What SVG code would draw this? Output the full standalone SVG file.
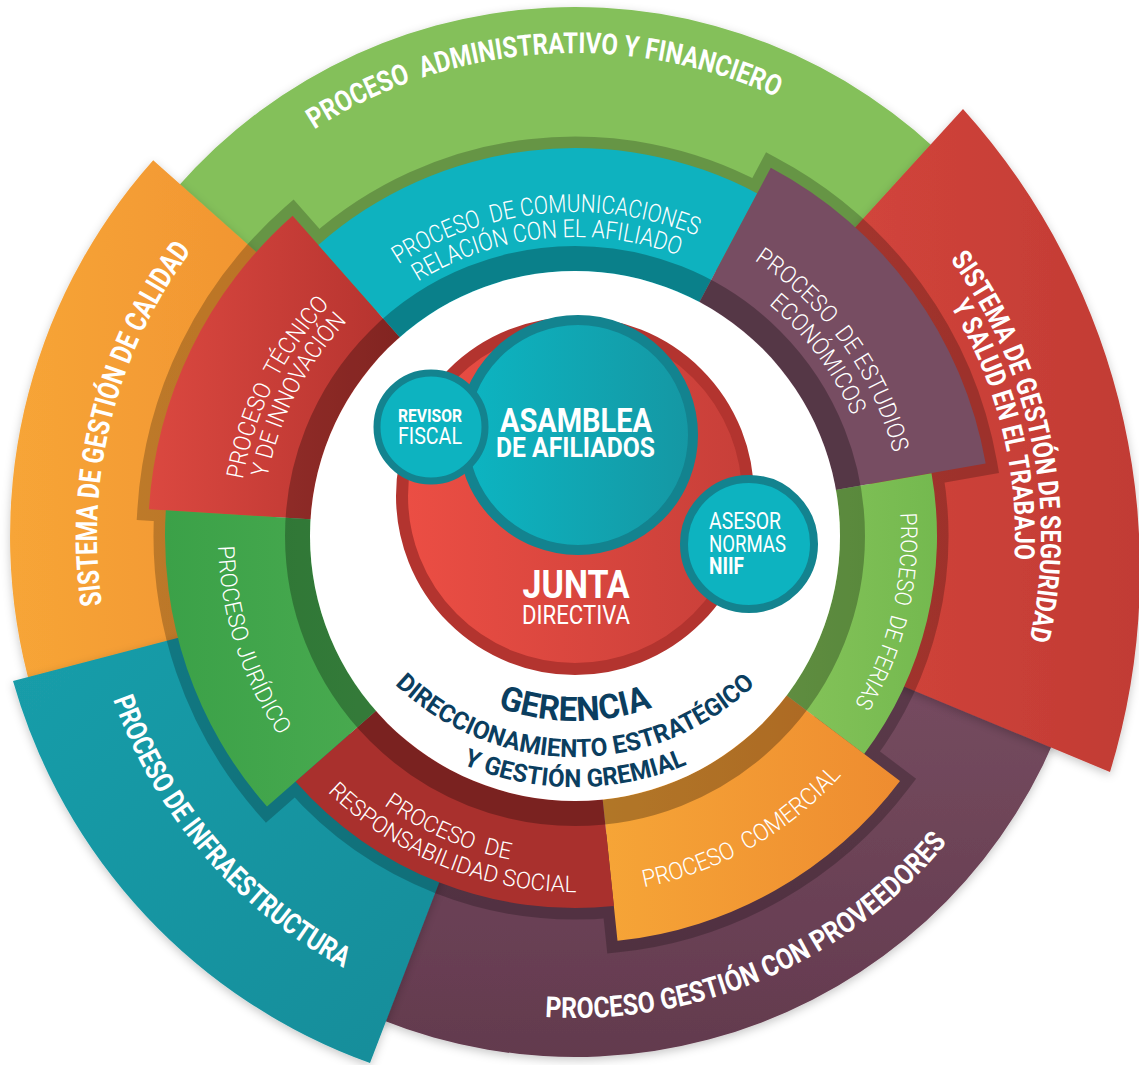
<svg xmlns="http://www.w3.org/2000/svg" width="1139" height="1065" viewBox="0 0 1139 1065">
<defs>
<style>
.ob{font-family:Roboto,"Liberation Sans",sans-serif;font-weight:700;fill:#fff}
.il{font-family:Roboto,"Liberation Sans",sans-serif;font-weight:300;fill:#fff}
.cb{font-family:Roboto,"Liberation Sans",sans-serif;font-weight:700;fill:#fff;text-anchor:middle}
.cl{font-family:Roboto,"Liberation Sans",sans-serif;font-weight:400;fill:#fff;text-anchor:middle}
.gb{font-family:Roboto,"Liberation Sans",sans-serif;font-weight:700;fill:#0b3e5f}
</style>
<filter id="ds" x="-15%" y="-15%" width="130%" height="130%"><feDropShadow dx="0" dy="3" stdDeviation="5" flood-color="#000" flood-opacity="0.22"/></filter>
<linearGradient id="gOr" x1="0" y1="0" x2="1" y2="0"><stop offset="0" stop-color="#f7a537"/><stop offset="1" stop-color="#ef8f30"/></linearGradient>
<linearGradient id="gRd" x1="0" y1="0" x2="1" y2="0"><stop offset="0" stop-color="#d6473d"/><stop offset="1" stop-color="#c13b34"/></linearGradient>
<linearGradient id="gTl" x1="0" y1="0" x2="1" y2="1"><stop offset="0" stop-color="#1a9eaa"/><stop offset="1" stop-color="#138c99"/></linearGradient>
<linearGradient id="gPl" x1="0" y1="0" x2="0" y2="1"><stop offset="0" stop-color="#774d61"/><stop offset="1" stop-color="#633a4e"/></linearGradient>
<linearGradient id="gTec" x1="0" y1="0" x2="1" y2="0"><stop offset="0" stop-color="#db4840"/><stop offset="1" stop-color="#b3322e"/></linearGradient>
<linearGradient id="gCom" x1="0" y1="0" x2="1" y2="0"><stop offset="0" stop-color="#f6a537"/><stop offset="1" stop-color="#ee8c30"/></linearGradient>
<linearGradient id="gJur" x1="0" y1="0" x2="1" y2="0"><stop offset="0" stop-color="#3ba148"/><stop offset="1" stop-color="#4aab50"/></linearGradient>
<linearGradient id="gFer" x1="0" y1="0" x2="1" y2="0"><stop offset="0" stop-color="#86c45a"/><stop offset="1" stop-color="#74b94f"/></linearGradient>
<linearGradient id="gJun" x1="0" y1="0" x2="1" y2="0"><stop offset="0" stop-color="#ec4e44"/><stop offset="1" stop-color="#c73f39"/></linearGradient>
<linearGradient id="gAsa" x1="0" y1="0" x2="1" y2="0"><stop offset="0" stop-color="#0cb5c2"/><stop offset="1" stop-color="#1597a3"/></linearGradient>
<!-- outer text paths -->
<path id="p-admin" d="M 239.5 188.6 A 483 483 0 0 1 858.9 145.3"/>
<path id="p-calidad" d="M 144.7 744 A 478 478 0 0 1 295.4 148.3"/>
<path id="p-seg1" d="M 863.6 170.1 A 466 466 0 0 1 985.5 756.6"/>
<path id="p-seg2" d="M 832.4 179.1 A 440 440 0 0 1 971.1 727.5"/>
<path id="p-prov" d="M 438.1 998.1 A 482 482 0 0 0 1006.3 751.1"/>
<path id="p-infra" d="M 85 541.6 A 490 490 0 0 0 495.4 1019.5"/>
<!-- inner text paths -->
<path id="p-tec1" d="M 247.3 614.7 A 337 337 0 0 1 440.6 226.9"/>
<path id="p-tec2" d="M 270 606.4 A 313 313 0 0 1 452.7 247.9"/>
<path id="p-com1" d="M 343.9 308.9 A 324 324 0 0 1 758.5 269"/>
<path id="p-com2" d="M 361 327.2 A 299 299 0 0 1 743.5 289"/>
<path id="p-est1" d="M 655.7 217.1 A 329 329 0 0 1 903.1 560.1"/>
<path id="p-est2" d="M 644 242 A 302 302 0 0 1 876.5 552.9"/>
<path id="p-fer" d="M 866.7 390.5 A 326 326 0 0 1 768.9 798.1"/>
<path id="p-come" d="M 510.4 888.1 A 358 358 0 0 0 910.6 660.8"/>
<path id="p-soc1" d="M 279.9 683.8 A 330 330 0 0 0 669.3 852.2"/>
<path id="p-soc2" d="M 261 703.7 A 356 356 0 0 0 685.6 874.4"/>
<path id="p-jur" d="M 244.4 401.1 A 357 357 0 0 0 384.8 838.1"/>
<!-- gerencia paths -->
<path id="p-ger" d="M 431 668.6 A 224 224 0 0 0 719 668.6"/>
<path id="p-dir" d="M 375.8 664.1 A 260 260 0 0 0 774.2 664.1"/>
<path id="p-ygg" d="M 369.9 702.1 A 290 290 0 0 0 780.1 702.1"/>
</defs>

<rect width="1139" height="1065" fill="#fff"/>

<!-- outer ring -->
<g id="administrativo">
<path d="M 158.1 210.3 A 529 529 0 0 1 955.5 168.5 L 790.8 327.6 A 300 300 0 0 0 338.6 351.3 Z" fill="#84c05a" filter="url(#ds)"/>
<text class="ob" font-size="29"><textPath href="#p-admin" startOffset="50%" text-anchor="middle" textLength="483" lengthAdjust="spacingAndGlyphs">PROCESO&#160; ADMINISTRATIVO Y FINANCIERO</textPath></text>
</g>
<g id="proveedores">
<path d="M 1064.6 714.2 A 521 521 0 0 1 330.4 996 L 434.1 800.9 A 300 300 0 0 0 856.9 638.6 Z" fill="url(#gPl)" filter="url(#ds)"/>
<text class="ob" font-size="29"><textPath href="#p-prov" startOffset="50%" text-anchor="middle" textLength="455" lengthAdjust="spacingAndGlyphs">PROCESO GESTIÓN CON PROVEEDORES</textPath></text>
</g>
<g id="calidad">
<path d="M 31.9 691.7 A 565 565 0 0 1 153.2 160.2 L 351 336.4 A 300 300 0 0 0 286.6 618.7 Z" fill="url(#gOr)" filter="url(#ds)"/>
<text class="ob" font-size="30"><textPath href="#p-calidad" startOffset="50%" text-anchor="middle" textLength="375" lengthAdjust="spacingAndGlyphs">SISTEMA DE GESTIÓN DE CALIDAD</textPath></text>
</g>
<g id="infraestructura">
<path d="M 13 681 A 572 572 0 0 0 370 1063 L 465 815.1 A 300 300 0 0 1 284.3 610.1 Z" fill="url(#gTl)" filter="url(#ds)"/>
<text class="ob" font-size="29"><textPath href="#p-infra" startOffset="50%" text-anchor="middle" textLength="362" lengthAdjust="spacingAndGlyphs">PROCESO DE INFRAESTRUCTURA</textPath></text>
</g>
<g id="seguridad">
<path d="M 963 109 A 690 690 0 0 1 1110 772 L 846.9 662.8 A 300 300 0 0 0 776.5 313.8 Z" fill="url(#gRd)" filter="url(#ds)"/>
<text class="ob" font-size="28"><textPath href="#p-seg1" startOffset="50%" text-anchor="middle" textLength="401" lengthAdjust="spacingAndGlyphs">SISTEMA DE GESTIÓN DE SEGURIDAD</textPath></text>
<text class="ob" font-size="28"><textPath href="#p-seg2" startOffset="50%" text-anchor="middle" textLength="265" lengthAdjust="spacingAndGlyphs">Y SALUD EN EL TRABAJO</textPath></text>
</g>

<!-- shadows cast by inner ring segments -->
<g id="inner-shadows" opacity="0.22" fill="#000" stroke="#000" stroke-width="23" stroke-linejoin="miter">
<path d="M 148.9 509.2 A 427 427 0 0 1 292.6 215.7 L 409.7 348.5 A 250 250 0 0 0 325.5 520.3 Z"/>
<path d="M 318.4 245 A 388 388 0 0 1 757.2 193.4 L 692.4 315.3 A 250 250 0 0 0 409.7 348.5 Z"/>
<path d="M 770.8 167.8 A 417 417 0 0 1 985.7 463.6 L 821.2 492.6 A 250 250 0 0 0 692.4 315.3 Z"/>
<path d="M 931.5 473.2 A 362 362 0 0 1 864.1 753.9 L 774.7 686.5 A 250 250 0 0 0 821.2 492.6 Z"/>
<path d="M 900 780.9 A 407 407 0 0 1 617.5 940.8 L 601.1 784.6 A 250 250 0 0 0 774.7 686.5 Z"/>
<path d="M 613.9 906 A 372 372 0 0 1 295.5 781.5 L 387.2 701 A 250 250 0 0 0 601.1 784.6 Z"/>
<path d="M 267 806.6 A 410 410 0 0 1 165.8 510.3 L 325.5 520.3 A 250 250 0 0 0 387.2 701 Z"/>
</g>

<!-- inner ring -->
<g id="tecnico">
<path d="M 148.9 509.2 A 427 427 0 0 1 292.6 215.7 L 409.7 348.5 A 250 250 0 0 0 325.5 520.3 Z" fill="url(#gTec)"/>
<text class="il" font-size="24"><textPath href="#p-tec1" startOffset="50%" text-anchor="middle" textLength="198" lengthAdjust="spacingAndGlyphs">PROCESO&#160; TÉCNICO</textPath></text>
<text class="il" font-size="24"><textPath href="#p-tec2" startOffset="50%" text-anchor="middle" textLength="178" lengthAdjust="spacingAndGlyphs">Y DE INNOVACIÓN</textPath></text>
</g>
<g id="comunicaciones">
<path d="M 318.4 245 A 388 388 0 0 1 757.2 193.4 L 692.4 315.3 A 250 250 0 0 0 409.7 348.5 Z" fill="#0eb2bf"/>
<text class="il" font-size="25"><textPath href="#p-com1" startOffset="50%" text-anchor="middle" textLength="311" lengthAdjust="spacingAndGlyphs">PROCESO&#160; DE COMUNICACIONES</textPath></text>
<text class="il" font-size="25"><textPath href="#p-com2" startOffset="50%" text-anchor="middle" textLength="271" lengthAdjust="spacingAndGlyphs">RELACIÓN CON EL AFILIADO</textPath></text>
</g>
<g id="estudios">
<path d="M 770.8 167.8 A 417 417 0 0 1 985.7 463.6 L 821.2 492.6 A 250 250 0 0 0 692.4 315.3 Z" fill="#774d62"/>
<text class="il" font-size="24"><textPath href="#p-est1" startOffset="50%" text-anchor="middle" textLength="243" lengthAdjust="spacingAndGlyphs">PROCESO&#160; DE ESTUDIOS</textPath></text>
<text class="il" font-size="24"><textPath href="#p-est2" startOffset="50%" text-anchor="middle" textLength="140" lengthAdjust="spacingAndGlyphs">ECONÓMICOS</textPath></text>
</g>
<g id="ferias">
<path d="M 931.5 473.2 A 362 362 0 0 1 864.1 753.9 L 774.7 686.5 A 250 250 0 0 0 821.2 492.6 Z" fill="url(#gFer)"/>
<text class="il" font-size="23"><textPath href="#p-fer" startOffset="50%" text-anchor="middle" textLength="199" lengthAdjust="spacingAndGlyphs">PROCESO&#160; DE FERIAS</textPath></text>
</g>
<g id="comercial">
<path d="M 900 780.9 A 407 407 0 0 1 617.5 940.8 L 601.1 784.6 A 250 250 0 0 0 774.7 686.5 Z" fill="url(#gCom)"/>
<text class="il" font-size="24"><textPath href="#p-come" startOffset="50%" text-anchor="middle" textLength="231" lengthAdjust="spacingAndGlyphs">PROCESO&#160; COMERCIAL</textPath></text>
</g>
<g id="responsabilidad-social">
<path d="M 613.9 906 A 372 372 0 0 1 295.5 781.5 L 387.2 701 A 250 250 0 0 0 601.1 784.6 Z" fill="#a9302d"/>
<text class="il" font-size="23"><textPath href="#p-soc1" startOffset="50%" text-anchor="middle" textLength="138" lengthAdjust="spacingAndGlyphs">PROCESO&#160; DE</textPath></text>
<text class="il" font-size="23"><textPath href="#p-soc2" startOffset="50%" text-anchor="middle" textLength="275" lengthAdjust="spacingAndGlyphs">RESPONSABILIDAD SOCIAL</textPath></text>
</g>
<g id="juridico">
<path d="M 267 806.6 A 410 410 0 0 1 165.8 510.3 L 325.5 520.3 A 250 250 0 0 0 387.2 701 Z" fill="url(#gJur)"/>
<text class="il" font-size="23"><textPath href="#p-jur" startOffset="50%" text-anchor="middle" textLength="202" lengthAdjust="spacingAndGlyphs">PROCESO JURÍDICO</textPath></text>
</g>

<!-- darker inner band of ring -->
<circle cx="575" cy="536" r="277.5" fill="none" stroke="#000" stroke-opacity="0.28" stroke-width="25"/>

<!-- gerencia -->
<g id="gerencia">
<circle cx="575" cy="536" r="265" fill="#fff"/>
<text class="gb" font-size="34"><textPath href="#p-ger" startOffset="50%" text-anchor="middle" textLength="158" lengthAdjust="spacingAndGlyphs">GERENCIA</textPath></text>
<text class="gb" font-size="25"><textPath href="#p-dir" startOffset="50%" text-anchor="middle" textLength="398" lengthAdjust="spacingAndGlyphs">DIRECCIONAMIENTO ESTRATÉGICO</textPath></text>
<text class="gb" font-size="25"><textPath href="#p-ygg" startOffset="50%" text-anchor="middle" textLength="230" lengthAdjust="spacingAndGlyphs">Y GESTIÓN GREMIAL</textPath></text>
</g>

<g id="junta-directiva">
<circle cx="575" cy="496" r="173" fill="url(#gJun)" stroke="#b3342f" stroke-width="12"/>
<text class="cb" x="576" y="598" font-size="38" textLength="107" lengthAdjust="spacingAndGlyphs">JUNTA</text>
<text class="cl" x="576" y="624" font-size="25" textLength="108" lengthAdjust="spacingAndGlyphs">DIRECTIVA</text>
</g>
<g id="asamblea">
<circle cx="578" cy="435" r="115" fill="url(#gAsa)" stroke="#13838f" stroke-width="10"/>
<text class="cb" x="576" y="432" font-size="33" textLength="152" lengthAdjust="spacingAndGlyphs">ASAMBLEA</text>
<text class="cb" x="575.5" y="457" font-size="27" textLength="159" lengthAdjust="spacingAndGlyphs">DE AFILIADOS</text>
</g>
<g id="revisor-fiscal">
<circle cx="431" cy="427" r="54" fill="#0db3c0" stroke="#13838f" stroke-width="7"/>
<text class="cb" x="430" y="422" font-size="19" textLength="64" lengthAdjust="spacingAndGlyphs">REVISOR</text>
<text class="cl" x="430" y="444" font-size="24" textLength="64" lengthAdjust="spacingAndGlyphs">FISCAL</text>
</g>
<g id="asesor-niif">
<circle cx="749" cy="544" r="65" fill="#0db3c0" stroke="#13838f" stroke-width="8"/>
<text class="cl" x="709" y="529" font-size="23" style="text-anchor:start" textLength="72" lengthAdjust="spacingAndGlyphs">ASESOR</text>
<text class="cl" x="709" y="552" font-size="23" style="text-anchor:start" textLength="77" lengthAdjust="spacingAndGlyphs">NORMAS</text>
<text class="cb" x="709" y="574" font-size="23" style="text-anchor:start" textLength="35" lengthAdjust="spacingAndGlyphs">NIIF</text>
</g>
<g id="connectors"/>
</svg>
